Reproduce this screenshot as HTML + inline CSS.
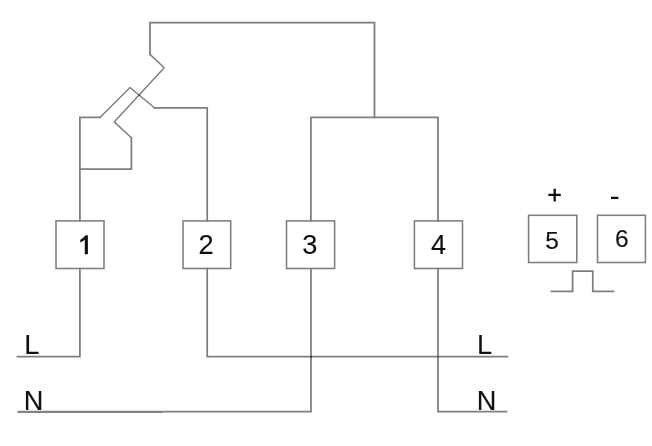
<!DOCTYPE html>
<html><head><meta charset="utf-8">
<style>
html,body{margin:0;padding:0;background:#fff;}
svg{display:block;will-change:transform;}
text{font-family:"Liberation Sans",sans-serif;fill:#111;}
</style></head>
<body>
<svg width="652" height="446" viewBox="0 0 652 446" xmlns="http://www.w3.org/2000/svg">
<g>
<g fill="none" stroke="#7e7e7e" stroke-width="1.75" stroke-linejoin="miter" stroke-linecap="square">
<polyline points="150,54.4 150,22.5 374.5,22.5 374.5,117.3"/>
<polyline points="310.9,220.9 310.9,117.3 438,117.3 438,220.9"/>
<polyline points="131.4,137.7 131.4,169 79.9,169"/>
<polyline points="79.9,220.9 79.9,117.3 100.25,117.3"/>
<polyline points="154.4,107.8 207.2,107.8 207.2,220.9"/>
<polyline points="79.9,268.5 79.9,356.7 17.5,356.7"/>
<polyline points="207.2,268.5 207.2,356.7 507.5,356.7"/>
<polyline points="311,268.5 311,411.5 163.5,411.5" stroke-linecap="butt"/>
<polyline points="438,268.5 438,411.7 506.5,411.7"/>
<polyline points="551.5,291.4 572.6,291.4 572.6,271 592.8,271 592.8,291.4 613.5,291.4"/>
<g stroke-width="1.55"><rect x="56" y="220.9" width="48" height="47.6"/>
<rect x="183" y="220.9" width="47.7" height="47.6"/>
<rect x="286.5" y="220.9" width="48.1" height="47.6"/>
<rect x="414.4" y="220.9" width="48.1" height="47.6"/>
<rect x="528.6" y="215.3" width="48.2" height="47.2"/>
<rect x="597.5" y="215.3" width="47.9" height="47.2"/></g>
</g>
<path d="M17.5,411.9 H163.5" fill="none" stroke="#828282" stroke-width="2.1"/>
<g fill="none" stroke="#7e7e7e" stroke-width="1.45" stroke-linejoin="round" stroke-linecap="round">
<polyline points="150,54.4 164.2,67.8 114.2,121.9 131.4,137.7"/>
<polyline points="100.25,117.3 130,87.5 154.4,107.8"/>
</g>
<g fill="#333">
<circle cx="311" cy="356.7" r="1"/>
<circle cx="139.3" cy="95.1" r="0.9"/>
<circle cx="438" cy="356.7" r="0.8"/>
</g>
<g font-size="27.2" text-anchor="middle" stroke="#111" stroke-width="0.12">
<path d="M87.9,254.2 H84.8 V239.7 C83.5,240.9 81.9,241.9 80.3,242.5 V239.7 C82.3,238.8 84.3,237.2 85.6,235.3 H87.9 Z" fill="#111" stroke="none"/>
<text x="206" y="254">2</text>
<text x="309.8" y="254.2">3</text>
<text x="438.5" y="254">4</text>
<text x="552" y="248.7" font-size="24.5">5</text>
<text x="621.7" y="247" font-size="24.5">6</text>
<text x="31.9" y="354">L</text>
<text x="33.6" y="409.7">N</text>
<text x="484.6" y="354">L</text>
<text x="486.6" y="409.7">N</text>
</g>
<g stroke="#111" stroke-width="2.3" fill="none">
<path d="M548.4,194.9 H560.8 M554.7,188.7 V201.4"/>
<path d="M611,197.9 H618.4"/>
</g>
</g>
</svg>
</body></html>
